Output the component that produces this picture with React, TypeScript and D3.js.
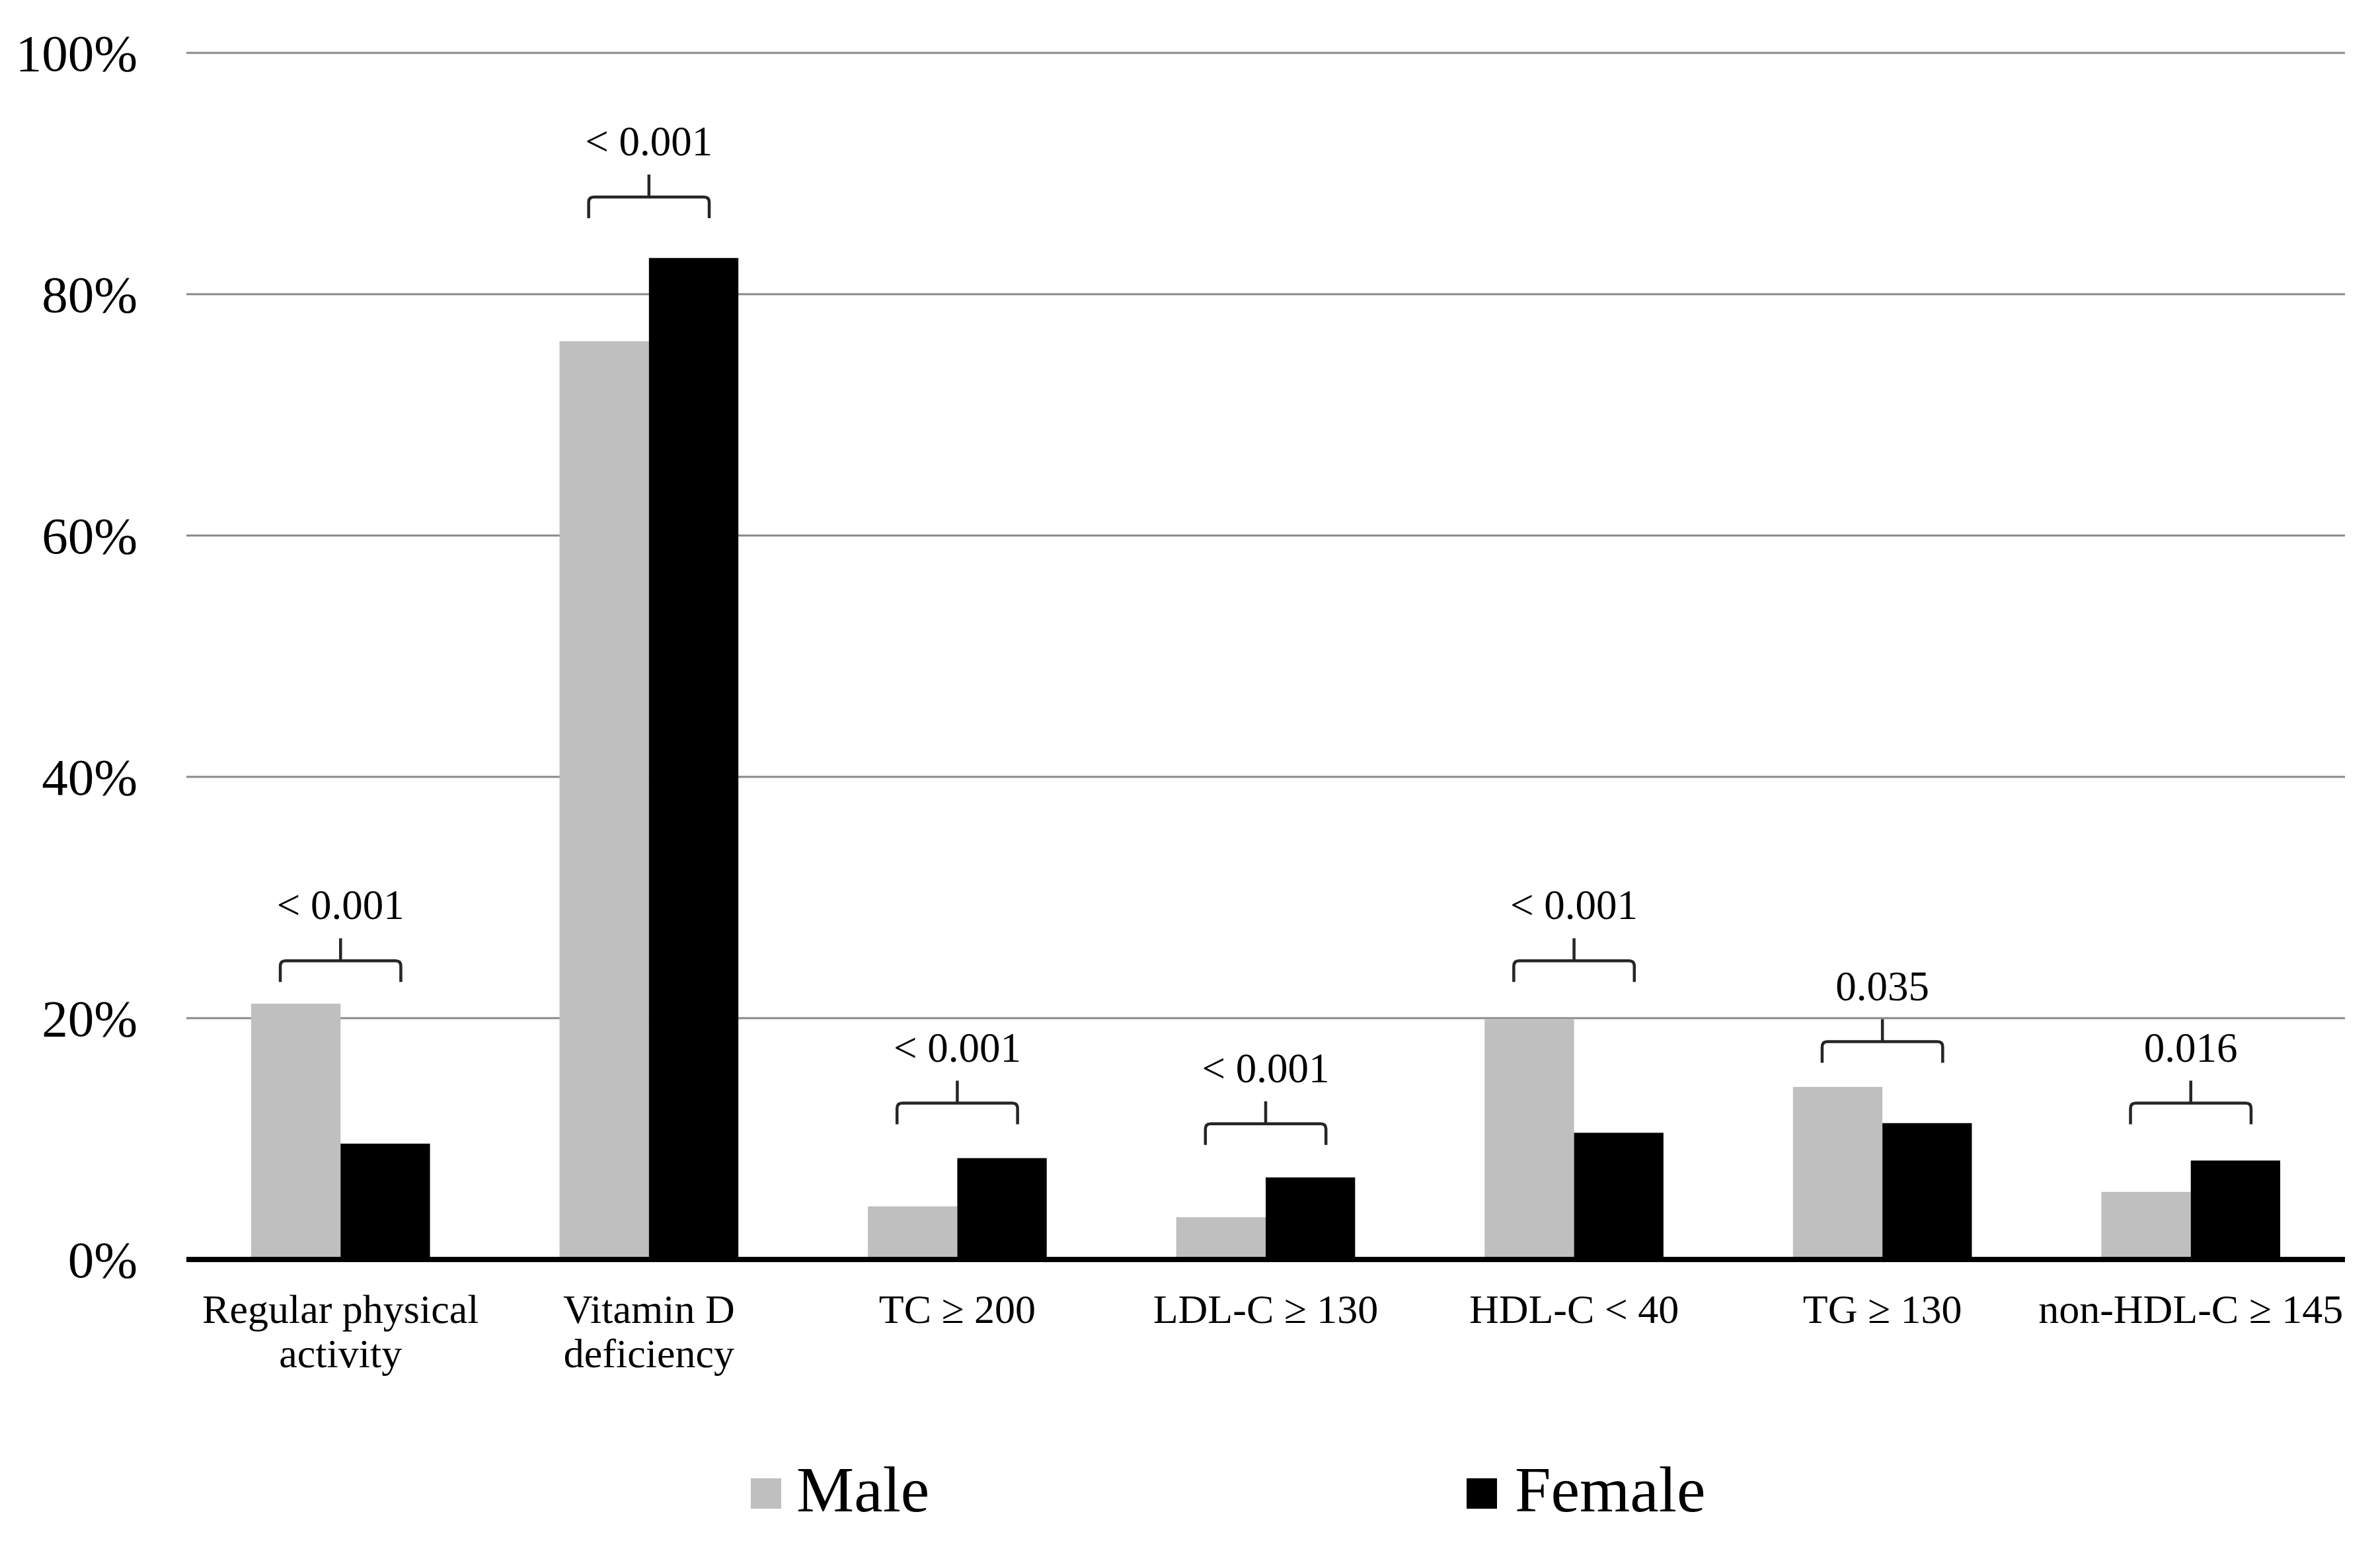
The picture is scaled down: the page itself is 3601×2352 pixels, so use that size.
import * as d3 from 'd3';

const CATEGORIES = [
  'Regular physical\nactivity',
  'Vitamin D\ndeficiency',
  'TC ≥ 200',
  'LDL-C ≥ 130',
  'HDL-C < 40',
  'TG ≥ 130',
  'non-HDL-C ≥ 145',
];
const SERIES = ['Male', 'Female'];
const MALE = [21.2, 76.1, 4.4, 3.5, 19.9, 14.3, 5.6];
const FEMALE = [9.6, 83.0, 8.4, 6.8, 10.5, 11.3, 8.2];
const P_VALUES = ['< 0.001', '< 0.001', '< 0.001', '< 0.001', '< 0.001', '0.035', '0.016'];
// level (in %) of the bottom of each bracket's legs
const BRACKET_LEVEL = [23.0, 86.3, 11.2, 9.5, 23.0, 16.3, 11.2];
const Y_TICKS = [0, 20, 40, 60, 80, 100];

const COLORS = ['#bfbfbf', '#000000'];
const FONT = '"Liberation Serif", "Times New Roman", serif';

const W = 3601;
const H = 2352;
const LEFT = 282;
const RIGHT = 3548;
const TOP = 80;
const BOTTOM = 1905;

export default function App() {
  const x0 = d3.scaleBand<string>()
    .domain(CATEGORIES)
    .range([LEFT, RIGHT])
    .paddingInner(0.42)
    .paddingOuter(0.21);
  const x1 = d3.scaleBand<string>().domain(SERIES).range([0, x0.bandwidth()]);
  const y = d3.scaleLinear().domain([0, 100]).range([BOTTOM, TOP]);
  const pct = d3.format('.0f');

  const rows = CATEGORIES.map((c, i) => ({ cat: c, vals: [MALE[i], FEMALE[i]] }));
  const half = x0.bandwidth() * 0.337;

  return (
    <svg
      width={W}
      height={H}
      style={{ position: 'absolute', left: 0, top: 0, display: 'block', background: '#fff' }}
      fontFamily={FONT}
    >
      <rect width={W} height={H} fill="#fff" />

      {/* gridlines */}
      {Y_TICKS.filter(t => t > 0).map(t => (
        <line key={t} x1={LEFT} x2={RIGHT} y1={y(t)} y2={y(t)} stroke="#898989" strokeWidth={3} />
      ))}

      {/* y tick labels */}
      {Y_TICKS.map(t => (
        <text key={t} x={208} y={y(t)} dy="0.34em" textAnchor="end" fontSize={79} fill="#000">
          {pct(t)}%
        </text>
      ))}

      {/* bars */}
      {rows.map(r => (
        <g key={r.cat} transform={`translate(${x0(r.cat)},0)`}>
          {r.vals.map((v, j) => (
            <rect
              key={SERIES[j]}
              x={x1(SERIES[j])}
              y={y(v)}
              width={x1.bandwidth()}
              height={y(0) - y(v)}
              fill={COLORS[j]}
            />
          ))}
        </g>
      ))}

      {/* x axis */}
      <line x1={LEFT} x2={RIGHT} y1={y(0)} y2={y(0)} stroke="#000" strokeWidth={8} />

      {/* category labels */}
      {CATEGORIES.map(c => {
        const cx = (x0(c) ?? 0) + x0.bandwidth() / 2;
        return (
          <text key={c} x={cx} y={2001} textAnchor="middle" fontSize={62} fill="#000">
            {c.split('\n').map((line, k) => (
              <tspan key={k} x={cx} dy={k === 0 ? 0 : 67}>{line}</tspan>
            ))}
          </text>
        );
      })}

      {/* significance brackets */}
      {CATEGORIES.map((c, i) => {
        const cx = (x0(c) ?? 0) + x0.bandwidth() / 2;
        const legBottom = y(BRACKET_LEVEL[i]);
        const bar = legBottom - 32;
        const tickTop = bar - 34;
        const r = 8;
        const d = [
          `M${cx - half},${legBottom}`,
          `L${cx - half},${bar + r}`,
          `Q${cx - half},${bar} ${cx - half + r},${bar}`,
          `L${cx + half - r},${bar}`,
          `Q${cx + half},${bar} ${cx + half},${bar + r}`,
          `L${cx + half},${legBottom}`,
          `M${cx},${bar}`,
          `L${cx},${tickTop}`,
        ].join(' ');
        return (
          <g key={`b${i}`}>
            <path d={d} fill="none" stroke="#262626" strokeWidth={4.5} />
            <text x={cx} y={tickTop - 29} textAnchor="middle" fontSize={63} fill="#000">
              {P_VALUES[i]}
            </text>
          </g>
        );
      })}

      {/* legend */}
      <rect x={1136} y={2236} width={46} height={46} fill={COLORS[0]} />
      <text x={1205} y={2286} fontSize={98} fill="#000">{SERIES[0]}</text>
      <rect x={2219} y={2236} width={46} height={46} fill={COLORS[1]} />
      <text x={2292} y={2286} fontSize={98} fill="#000">{SERIES[1]}</text>
    </svg>
  );
}
